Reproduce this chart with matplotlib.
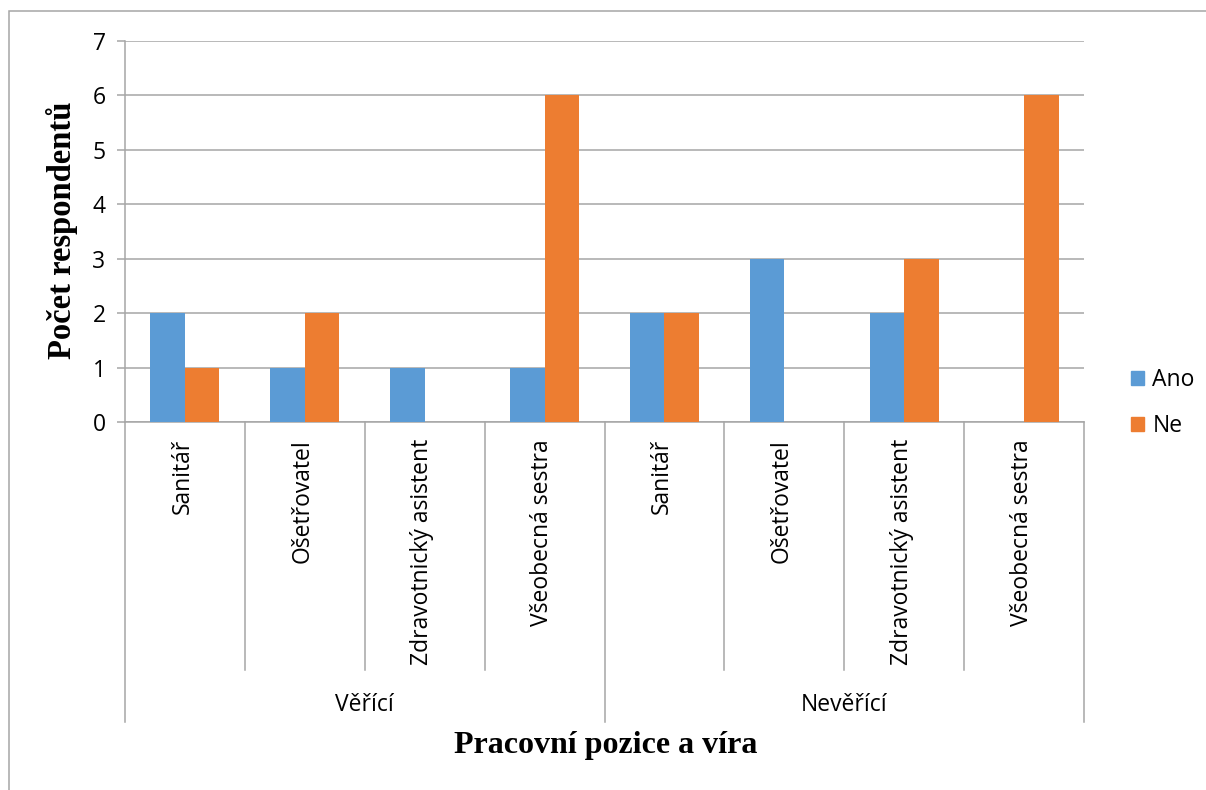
import matplotlib.pyplot as plt
from matplotlib.patches import Rectangle, Patch
import numpy as np

groups = ["Věřící", "Nevěřící"]
positions = ["Sanitář", "Ošetřovatel", "Zdravotnický asistent", "Všeobecná sestra"]
ano = [2, 1, 1, 1, 2, 3, 2, 0]
ne = [1, 2, 0, 6, 2, 0, 3, 6]

blue = "#5B9BD5"
orange = "#ED7D31"
gray = "#A6A6A6"
W, H = 1206, 790
fs = 16.5

plt.rcParams['font.family'] = ['Open Sans', 'DejaVu Sans']

fig = plt.figure(figsize=(W / 100, H / 100), dpi=100)
# plot area in pixels: x 125..1084, y 41..422
ax = fig.add_axes([125 / W, 1 - 422 / H, (1084 - 125) / W, (422 - 41) / H])

n = len(ano)
x = np.arange(n) + 0.5
bw = 0.2875
ax.bar(x - bw / 2, ano, bw, color=blue, zorder=3)
ax.bar(x + bw / 2, ne, bw, color=orange, zorder=3)

ax.set_xlim(0, n)
ax.set_ylim(0, 7)
ax.set_yticks(range(8))
ax.set_xticks([])
ax.grid(axis='y', color=gray, linewidth=1.1, zorder=0)
ax.tick_params(axis='y', length=6, width=1.1, color=gray, labelsize=fs, pad=8)
for s in ['top', 'right']:
    ax.spines[s].set_visible(False)
for s in ['left', 'bottom']:
    ax.spines[s].set_color(gray)
    ax.spines[s].set_linewidth(1.1)

# two-level category axis
ah = 422 - 41
tr = ax.get_xaxis_transform()
for i in range(1, n):
    if i % len(positions) == 0:
        continue
    ax.plot([i, i], [0, -248 / ah], color=gray, lw=1.1, transform=tr, clip_on=False)
for i in range(0, n + 1, len(positions)):
    ax.plot([i, i], [0, -300 / ah], color=gray, lw=1.1, transform=tr, clip_on=False)
for i in range(n):
    ax.text(x[i] - 0.02, -17 / ah, positions[i % len(positions)], rotation=90,
            ha='center', va='top', fontsize=fs, transform=tr)
for g, name in enumerate(groups):
    ax.text(len(positions) * (g + 0.5), -283 / ah, name, ha='center', va='center',
            fontsize=fs, transform=tr)

fig.text(62 / W, 1 - 230 / H, "Počet respondentů", rotation=90, ha='center', va='center',
         fontsize=23.5, fontweight='bold', family='Liberation Serif')
fig.text(606 / W, 1 - 746 / H, "Pracovní pozice a víra", ha='center', va='center',
         fontsize=23, fontweight='bold', family='Liberation Serif')

handles = [Patch(color=blue, label="Ano"), Patch(color=orange, label="Ne")]
fig.legend(handles=handles, loc='center left', bbox_to_anchor=(1110 / W, 1 - 403 / H),
           frameon=False, fontsize=fs, handlelength=0.6, handleheight=0.6,
           handletextpad=0.35, labelspacing=0.95)

fig.patches.append(Rectangle((9 / W, -0.1), 1.2, 1 - 11 / H + 0.1, transform=fig.transFigure,
                             fill=False, edgecolor=gray, lw=1.1))

fig.savefig("out.png", dpi=100)
